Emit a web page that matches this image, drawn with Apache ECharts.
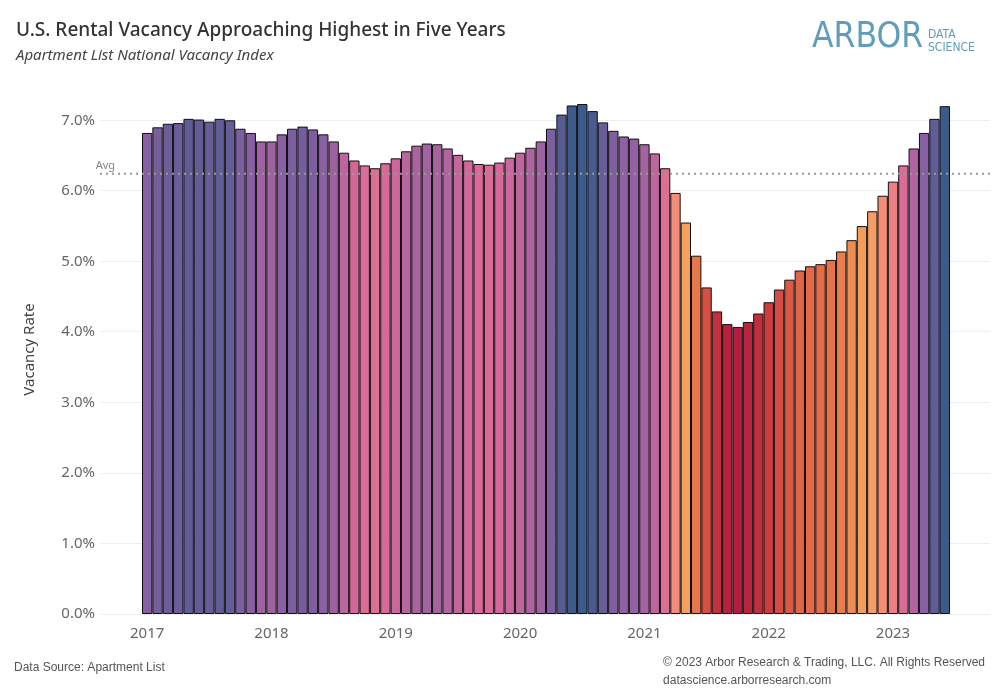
<!DOCTYPE html>
<html><head><meta charset="utf-8">
<script src="https://cdn.jsdelivr.net/npm/echarts@6/dist/echarts.min.js"></script>
<style>html,body{margin:0;padding:0;background:#fff}#c{width:1000px;height:700px}</style>
</head><body><div id="c"></div>
<script>
const years = [2017,2018,2019,2020,2021,2022,2023];
const months = [];
years.forEach(y=>{for(let m=1;m<=12;m++){ if(y===2023&&m>6) break; months.push(y+'-'+String(m).padStart(2,'0'));}});
const vacancy = [
6.82,6.90,6.95,6.96,7.02,7.01,6.98,7.02,7.00,6.88,6.82,6.70,
6.70,6.80,6.88,6.91,6.87,6.80,6.70,6.54,6.43,6.36,6.32,6.39,
6.46,6.56,6.64,6.67,6.66,6.60,6.51,6.43,6.38,6.37,6.40,6.47,
6.54,6.61,6.70,6.88,7.08,7.21,7.23,7.13,6.97,6.85,6.77,6.74,
6.66,6.53,6.32,5.97,5.55,5.08,4.63,4.29,4.11,4.07,4.14,4.26,
4.42,4.60,4.74,4.87,4.93,4.96,5.02,5.14,5.30,5.50,5.71,5.93,
6.13,6.36,6.60,6.82,7.02,7.20];
const avg = vacancy.reduce((a,b)=>a+b,0)/vacancy.length;
const yTicks = [0,1,2,3,4,5,6,7];

const chart = echarts.init(document.getElementById('c'));
chart.setOption({
  animation:false,
  textStyle:{fontFamily:'Noto Sans'},
  graphic:[
    {type:'text',left:16,top:21,style:{text:'U.S. Rental Vacancy Approaching Highest in Five Years',fontSize:19,fontWeight:500,fill:'#333',fontFamily:'Noto Sans'}},
    {type:'text',left:16,top:48,style:{text:'Apartment List National Vacancy Index',fontSize:15,fontStyle:'italic',fill:'#444',fontFamily:'Noto Sans'}},
    {type:'text',left:812,top:20,style:{text:'ARBOR',fontSize:35,fill:'#5f9dba',fontFamily:'DejaVu Sans Condensed'}},
    {type:'text',left:928,top:28,style:{text:'DATA\nSCIENCE',fontSize:12,lineHeight:13,fill:'#5f9dba',fontFamily:'DejaVu Sans Condensed'}},
    {type:'text',left:14,top:662,style:{text:'Data Source: Apartment List',fontSize:12,fill:'#555'}},
    {type:'text',right:15,top:654,style:{text:'© 2023 Arbor Research & Trading, LLC. All Rights Reserved\ndatascience.arborresearch.com',fontSize:12,lineHeight:18,align:'right',fill:'#555'}}
  ],
  grid:[
    {left:142,right:50,top:85,bottom:86},
    {left:100,right:10,top:120,bottom:86}
  ],
  visualMap:{show:false,type:'continuous',seriesIndex:0,min:4.0,max:7.2,
    inRange:{color:['#af173f','#cb3b40','#de5d45','#ec834e','#f3a660','#f48a7a','#d8689a','#8a60a3','#3d5a8c']}},
  xAxis:[
    {type:'category',gridIndex:0,data:months,axisLine:{show:false},axisTick:{show:false},
      axisLabel:{interval:(i,v)=>v.endsWith('-01'),formatter:v=>v.slice(0,4),fontSize:15,color:'#666',margin:12}},
    {type:'value',gridIndex:1,show:false,min:0,max:1}
  ],
  yAxis:[
    {type:'value',gridIndex:0,min:0,max:7.5,interval:1,name:'Vacancy Rate',nameLocation:'middle',nameGap:105,
      nameTextStyle:{fontSize:15,color:'#444'},splitLine:{show:false},axisLine:{show:false},axisTick:{show:false},
      axisLabel:{fontSize:15,color:'#666',margin:47,formatter:v=>yTicks.includes(v)?v.toFixed(1)+'%':''}},
    {type:'value',gridIndex:1,min:0,max:7,interval:1,axisLabel:{show:false},axisLine:{show:false},axisTick:{show:false},
      splitLine:{lineStyle:{color:'#eeeeee'}}}
  ],
  series:[
    {type:'bar',data:vacancy,barCategoryGap:'0%',xAxisIndex:0,yAxisIndex:0,
      itemStyle:{borderColor:'#111',borderWidth:1},z:3},
    {type:'line',xAxisIndex:1,yAxisIndex:1,data:[[0,avg],[1,avg]],symbol:'none',
      lineStyle:{color:'#999',type:[2,4],width:2},z:4,silent:true},
    {type:'scatter',xAxisIndex:1,yAxisIndex:1,data:[[0.006,avg]],symbolSize:0,
      label:{show:true,formatter:'Avg',position:'top',color:'#666',fontSize:11,distance:2}}
  ]
});
</script></body></html>
